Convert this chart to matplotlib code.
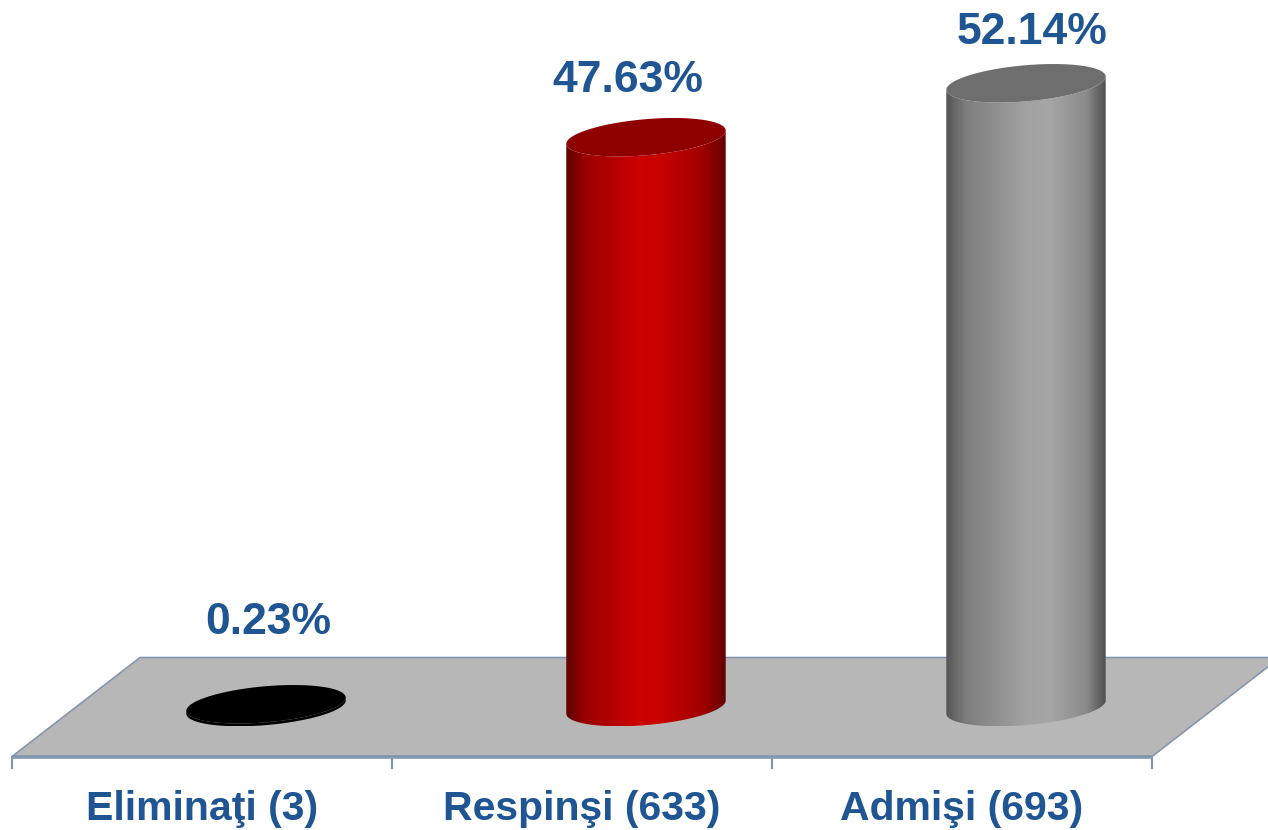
import numpy as np
import matplotlib
matplotlib.use("Agg")
import matplotlib.pyplot as plt
from matplotlib.colors import LinearSegmentedColormap
from matplotlib.patches import Polygon

plt.rcParams['font.family'] = ['Liberation Sans', 'DejaVu Sans']

categories = ["Eliminaţi (3)", "Respinşi (633)", "Admişi (693)"]
percents = [0.23, 47.63, 52.14]
value_labels = ["0.23%", "47.63%", "52.14%"]

text_color = "#1f5592"
edge_color = "#8497b0"
floor_color = "#b7b7b7"

# side shading (left -> right) and top colour per cylinder
side_colors = [
    [(0.0, "#000000"), (1.0, "#000000")],
    [(0.0, "#5e0000"), (0.12, "#9a0000"), (0.45, "#cc0000"), (0.6, "#c80000"),
     (0.85, "#a20000"), (1.0, "#650000")],
    [(0.0, "#555555"), (0.12, "#7d7d7d"), (0.5, "#a2a2a2"), (0.65, "#a6a6a6"),
     (0.88, "#8a8a8a"), (1.0, "#505050")],
]
top_colors = ["#000000", "#8f0000", "#6e6e6e"]
# label nudges in pixels (dx, dy up) from the top face centre
label_nudge = [(2, 82), (-18, 57), (6, 51)]

fig = plt.figure(figsize=(12.68, 8.30), dpi=100)
ax = fig.add_axes([0, 0, 1, 1])
ax.set_xlim(-0.5316, 2.8053)
ax.set_ylim(-10.28, 59.1)
ax.axis("off")

# pixel size of one data unit
p0 = ax.transData.transform((0, 0))
px_x = ax.transData.transform((1, 0))[0] - p0[0]
px_y = ax.transData.transform((0, 1))[1] - p0[1]

# floor depth: half depth projects 64 px right, 49.5 px up
dxh = 64 / px_x
dyh = 49.5 / px_y
n = len(categories)

floor = Polygon([(-0.5 - 0 * dxh, -dyh), (n - 0.5, -dyh),
                 (n - 0.5 + 2 * dxh, dyh), (-0.5 + 2 * dxh, dyh)],
                closed=True, facecolor=floor_color, edgecolor=edge_color,
                lw=1.2, zorder=1)
ax.add_patch(floor)
ax.plot([-0.5, n - 0.5], [-dyh, -dyh], color=edge_color, lw=2.6, zorder=2,
        solid_capstyle="butt")
tick_len = 11 / px_y
for xt in np.arange(-0.5, n, 1.0):
    ax.plot([xt, xt], [-dyh, -dyh - tick_len], color=edge_color, lw=1.6, zorder=2)

# ellipse geometry in pixels
a_px, b_px, phi = 80.0, 18.0, np.deg2rad(5.0)
t0 = np.arctan(-(b_px / a_px) * np.tan(phi))


def ellipse_pts(cx, cy, t):
    ex = a_px * np.cos(t) * np.cos(phi) - b_px * np.sin(t) * np.sin(phi)
    ey = a_px * np.cos(t) * np.sin(phi) + b_px * np.sin(t) * np.cos(phi)
    return np.column_stack([cx + ex / px_x, cy + ey / px_y])


for i, (val, cmap_pts) in enumerate(zip(percents, side_colors)):
    cx = i + dxh
    front = np.linspace(t0 + np.pi, t0 + 2 * np.pi, 120)
    top_arc = ellipse_pts(cx, val, front)
    bot_arc = ellipse_pts(cx, 0, front)
    side = np.vstack([bot_arc, top_arc[::-1]])
    side_patch = Polygon(side, closed=True, facecolor="none", edgecolor="none", zorder=3)
    ax.add_patch(side_patch)
    cmap = LinearSegmentedColormap.from_list(f"cyl{i}", cmap_pts)
    grad = np.linspace(0, 1, 256)[None, :]
    x0, x1 = side[:, 0].min(), side[:, 0].max()
    y0, y1 = side[:, 1].min(), side[:, 1].max()
    im = ax.imshow(grad, extent=[x0, x1, y0, y1], aspect="auto", cmap=cmap,
                   interpolation="bilinear", zorder=3)
    im.set_clip_path(side_patch)

    full = np.linspace(0, 2 * np.pi, 240)
    ax.add_patch(Polygon(ellipse_pts(cx, val, full), closed=True,
                         facecolor=top_colors[i], edgecolor="none", zorder=4))

    ndx, ndy = label_nudge[i]
    ax.annotate(value_labels[i], (cx, val), xytext=(ndx * 0.72, ndy * 0.72),
                textcoords="offset points", ha="center", va="center",
                fontsize=32, fontweight="bold", color=text_color, zorder=5)

    ax.annotate(categories[i], (i, -dyh), xytext=(0, -63.5 * 0.72),
                textcoords="offset points", ha="center", va="baseline",
                fontsize=29.5, fontweight="bold", color=text_color)

ax.set_xlim(-0.5316, 2.8053)
ax.set_ylim(-10.28, 59.1)
fig.savefig("out.png", dpi=100)
